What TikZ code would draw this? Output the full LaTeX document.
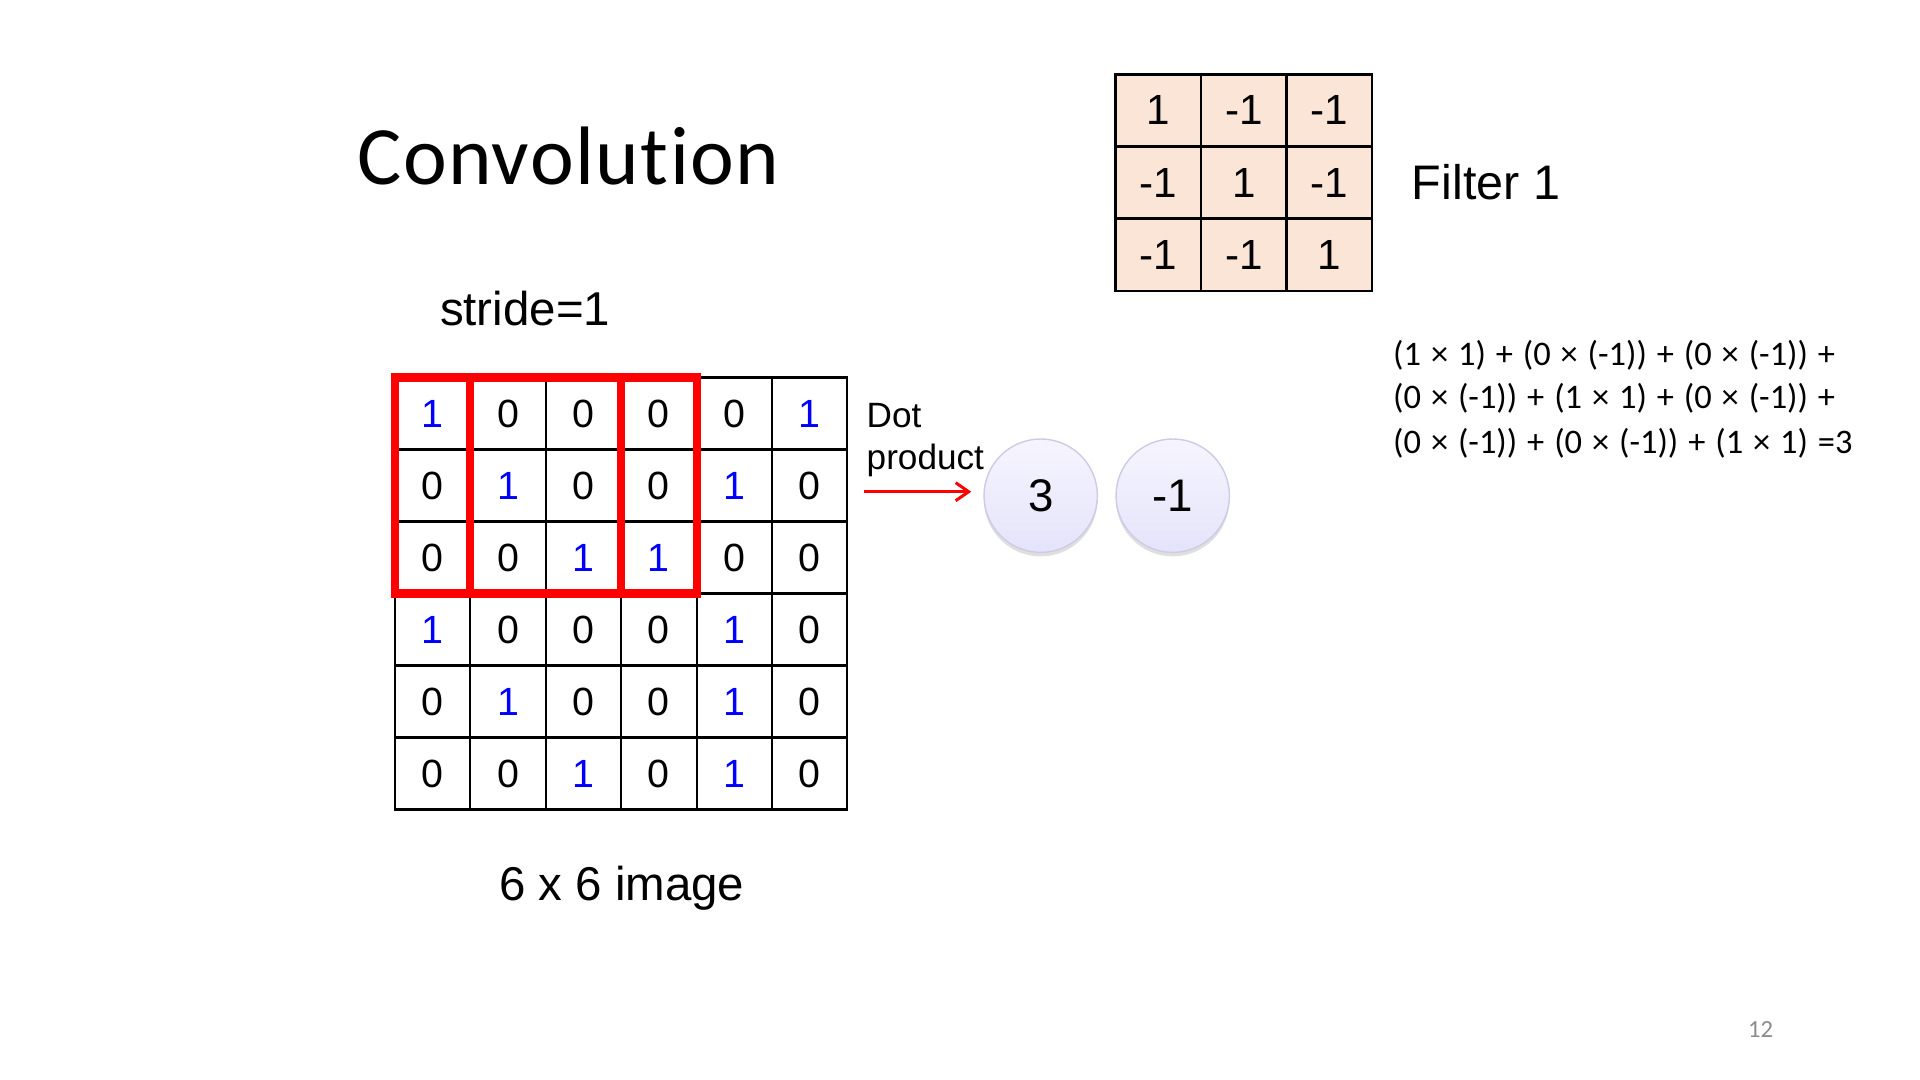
\documentclass[tikz,border=0pt]{standalone}
\usepackage{fontspec}
\setmainfont{Liberation Sans}
\newfontfamily\calibri{Carlito}
\newfontfamily\calibrieq{Carlito}[WordSpace=1.27]
\newfontfamily\calibrititle{Carlito}[LetterSpace=1.8, Ligatures=NoCommon]
\usepackage{tikz}
\usetikzlibrary{arrows.meta,positioning,shadows}

\definecolor{filterfill}{HTML}{FBE5D6}
\definecolor{bluedigit}{HTML}{0000FF}
\definecolor{redwin}{HTML}{FF0000}
\definecolor{circtop}{HTML}{F6F5FE}
\definecolor{circbot}{HTML}{E5E3FA}
\definecolor{circline}{HTML}{CDCBE6}
\definecolor{pagegray}{HTML}{8C8C8C}

\tikzset{
  imgcell/.style={draw, line width=0.6pt, outer sep=0, inner sep=0,
    minimum width=0.754cm, minimum height=0.72cm, font=\fontsize{11.2}{13}\selectfont},
  val1/.style={text=bluedigit},
  val0/.style={},
  filtcell/.style={draw, fill=filterfill, line width=0.7pt, outer sep=0, inner sep=0,
    minimum width=0.855cm, minimum height=0.722cm, font=\fontsize{12}{14}\selectfont},
  window/.style={draw=redwin, line width=2.3pt},
  dotarrow/.style={draw=redwin, line width=0.85pt, -{Straight Barb[length=1.3mm, width=1.8mm]}},
  outval/.style={circle, draw=circline, line width=0.4pt, top color=circtop, bottom color=circbot,
    minimum size=1.134cm, inner sep=0, font=\fontsize{13}{15}\selectfont,
    drop shadow={shadow xshift=0pt, shadow yshift=-0.04cm, opacity=0.18, fill=black!70}},
  eqline/.style={anchor=base west, inner sep=0, font=\calibrieq\fontsize{9.8}{11.5}\selectfont},
  biglabel/.style={anchor=base west, inner sep=0, font=\fontsize{13.5}{16}\selectfont}
}

\begin{document}
\begin{tikzpicture}
    \useasboundingbox (0, 0) rectangle (19.2, -10.8);

    \node (title) at (3.567, -1.85) [anchor=base west, inner sep=0, font=\calibrititle\fontsize{23.6}{28}\selectfont] {Convolution};
    \node (stride) at (4.393, -3.257) [biglabel] {stride=1};

    % 6 x 6 image
    \foreach \row [count=\r] in {{1,0,0,0,0,1},{0,1,0,0,1,0},{0,0,1,1,0,0},{1,0,0,0,1,0},{0,1,0,0,1,0},{0,0,1,0,1,0}}
        \foreach \v [count=\c] in \row
            \node (g-\r-\c) at ({3.95 + 0.754*(\c - 0.5)}, {-3.775 - 0.72*(\r - 0.5)}) [imgcell, val\v] {\v};

    % stride 1: first two windows
    \draw[window] (g-1-1.north west) rectangle (g-3-3.south east);
    \draw[window] (g-1-2.north west) rectangle (g-3-4.south east);

    \node (imglabel) at (4.983, -9.007) [biglabel] {6 x 6 image};

    % filter
    \foreach \row [count=\r] in {{1,-1,-1},{-1,1,-1},{-1,-1,1}}
        \foreach \v [count=\c] in \row
            \node (f-\r-\c) at ({11.157 + 0.855*(\c - 0.5)}, {-0.743 - 0.722*(\r - 0.5)}) [filtcell] {\v};
    \node (filtlabel) [right=0.39cm of f-2-3, inner sep=0, font=\fontsize{13.8}{16}\selectfont] {Filter 1};

    % dot product
    \node (dotlbl) at (8.66, -4.03) [anchor=north west, inner sep=0, align=left, font=\fontsize{10}{11.9}\selectfont] {Dot\\product};
    \node (o1) at (10.407, -4.957) [outval] {3};
    \node (o2) at (11.727, -4.957) [outval] {-1};
    \coordinate (arrstart) at (8.64, -4.917);
    \draw[dotarrow, shorten >=0.12cm] (arrstart) -- (arrstart -| o1.west);

    \node (eq1) at (13.925, -3.66) [eqline] {(1 × 1) + (0 × (-1)) + (0 × (-1)) +};
    \node (eq2) at (13.925, -4.09) [eqline] {(0 × (-1)) + (1 × 1) + (0 × (-1)) +};
    \node (eq3) at (13.925, -4.53) [eqline] {(0 × (-1)) + (0 × (-1)) + (1 × 1) =3};

    \node (pagenum) at (17.475, -10.373) [anchor=base west, inner sep=0, text=pagegray, font=\calibri\fontsize{7}{8}\selectfont] {12};
\end{tikzpicture}
\end{document}
